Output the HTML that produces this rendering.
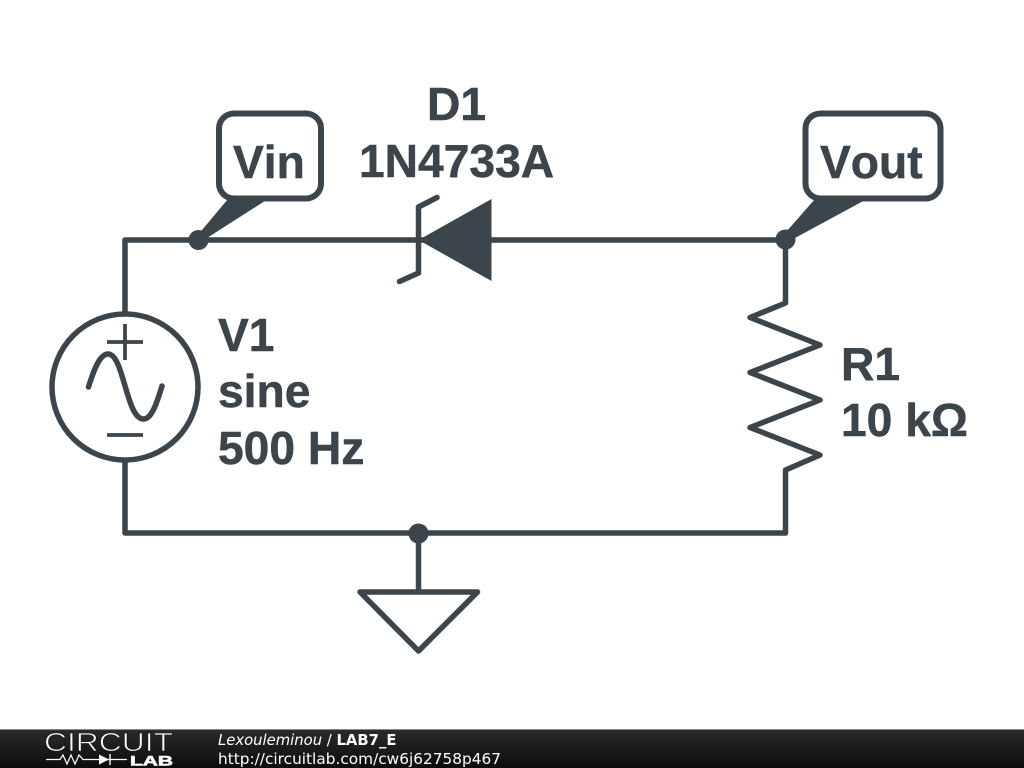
<!DOCTYPE html>
<html><head><meta charset="utf-8"><style>
html,body{margin:0;padding:0;background:#fff;width:1024px;height:768px;overflow:hidden}
svg{display:block}
.t{font-family:"Liberation Sans",sans-serif;font-weight:bold;font-size:46.2px;fill:#3c454b;stroke:#3c454b;stroke-width:0.5;font-kerning:none}
.f{font-family:"DejaVu Sans",sans-serif;font-size:14.8px;fill:#fff}
</style></head><body>
<svg width="1024" height="768" viewBox="0 0 1024 768" xmlns="http://www.w3.org/2000/svg">
<defs><linearGradient id="g" x1="0" y1="0" x2="0" y2="1"><stop offset="0" stop-color="#2b2b2b"/><stop offset="0.5" stop-color="#1c1c1c"/><stop offset="1" stop-color="#0c0c0c"/></linearGradient></defs>
<rect width="1024" height="768" fill="#fff"/>
<g fill="none" stroke="#3c454b" stroke-width="5.5" stroke-linecap="round" stroke-linejoin="round">
<path d="M125 312V240H785.500V303L750 317.500L820 345L750 372.500L820 400L750 427.500L820 455L785.500 470V533H125V461"/>
<circle cx="125" cy="387" r="73"/>
<path d="M88.500 387C94 369 100 354 108 354C124 354 126 419 143.500 419C152 419 157 402 162 386"/>
<rect x="219" y="113.500" width="102" height="85" rx="15" stroke-width="6"/>
<rect x="805.500" y="113.500" width="135" height="85" rx="15" stroke-width="6"/>
<path d="M418.500 533V591M360 592H477.500L418.500 651Z"/>
<path d="M437 197.500L418.500 207V273L399.500 281.500"/>
</g>
<path d="M125 324V360M107 342H143M107 435H143" fill="none" stroke="#3c454b" stroke-width="3.800"/>
<g fill="#3c454b">
<path d="M228 199L268 199L207 238L197 236Z"/>
<path d="M815 199L867 199L795 238L786 232Z"/>
<path d="M418.500 240L491.500 199V281Z"/>
<circle cx="198.500" cy="240" r="10"/>
<circle cx="785.500" cy="239.500" r="10"/>
<circle cx="418.500" cy="533.500" r="10"/>
</g>
<text class="t" x="427" y="120">D1</text>
<text class="t" x="359" y="177">1N4733A</text>
<text class="t" x="233" y="178">Vin</text>
<text class="t" x="820" y="178">Vout</text>
<text class="t" x="218" y="351">V1</text>
<text class="t" x="218" y="407">sine</text>
<text class="t" x="218" y="464">500 Hz</text>
<text class="t" x="841" y="380">R1</text>
<text class="t" x="841" y="436">10 kΩ</text>
<rect y="729" width="1024" height="39" fill="url(#g)"/>
<rect y="729" width="1024" height="1" fill="#8a8a8a"/>
<text x="44" y="751" font-family="'Liberation Sans',sans-serif" font-size="26" fill="#fff" stroke="#1c1c1c" stroke-width="0.8" textLength="129" lengthAdjust="spacingAndGlyphs">CIRCUIT</text>
<text x="130" y="765.500" font-family="'Liberation Sans',sans-serif" font-weight="bold" font-size="14" fill="#fff" stroke="#fff" stroke-width="0.6" textLength="43" lengthAdjust="spacingAndGlyphs">LAB</text>
<path d="M46 759.500H60L63 755L67 764L71 755L75 764L79 755L83 759.500H127" fill="none" stroke="#fff" stroke-width="1.200"/>
<path d="M99 754.500L109 759.500L99 764.500Z" fill="#fff"/>
<path d="M110 754V765" stroke="#fff" stroke-width="1.400"/>
<text class="f" x="218" y="745"><tspan font-style="italic">Lexouleminou</tspan> / <tspan font-weight="bold">LAB7_E</tspan></text>
<text class="f" x="218" y="764" textLength="283" lengthAdjust="spacingAndGlyphs">http://circuitlab.com/cw6j62758p467</text>
</svg>
</body></html>
